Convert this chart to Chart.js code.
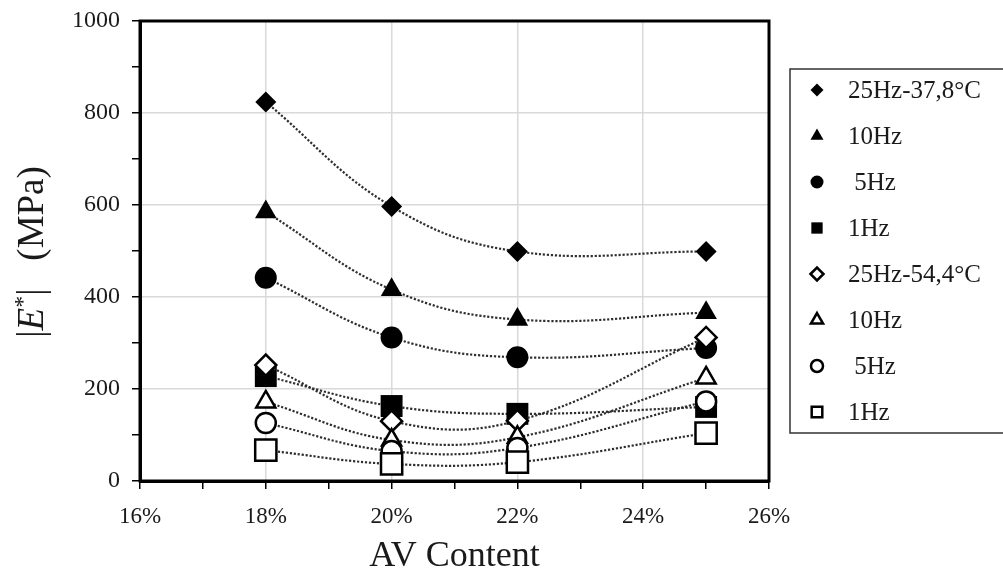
<!DOCTYPE html>
<html>
<head>
<meta charset="utf-8">
<script src="https://cdn.jsdelivr.net/npm/chart.js@4.4.1/dist/chart.umd.min.js"></script>
<style>
    html, body { margin: 0; padding: 0; background: #fff; }
    #wrap { width: 1003px; height: 571px; }
</style>
</head>
<body>
<div id="wrap"><canvas id="chart"></canvas></div>
<script>
// AV content (%) on the x axis
const avContent = [18, 20, 22, 25]

const seriesLabels = ["25Hz-37,8°C", "10Hz", " 5Hz", "1Hz", "25Hz-54,4°C", "10Hz", " 5Hz", "1Hz"]

// |E*| in MPa, 37.8°C
const e25Hz378 = [824, 597, 499, 499]
const e10Hz378 = [585, 416, 351, 366]
const e5Hz378 = [442, 312, 269, 289]
const e1Hz378 = [228, 163, 146, 161]
// |E*| in MPa, 54.4°C
const e25Hz544 = [252, 130, 131, 312]
const e10Hz544 = [172, 89, 95, 224]
const e5Hz544 = [126, 65, 72, 173]
const e1Hz544 = [67, 37, 41, 104]

const xTicks = [16, 18, 20, 22, 24, 26]
const yTicks = [0, 200, 400, 600, 800, 1000]

const seriesValues = [e25Hz378, e10Hz378, e5Hz378, e1Hz378, e25Hz544, e10Hz544, e5Hz544, e1Hz544]

// marker look: shape, filled or open, radius on chart, radius in legend
const markers = [
    { style: "rectRot", filled: true, r: 10.5, lr: 6.5 },
    { style: "triangle", filled: true, r: 12.5, lr: 7.5 },
    { style: "circle", filled: true, r: 11, lr: 6.5 },
    { style: "rect", filled: true, r: 15.5, lr: 8 },
    { style: "rectRot", filled: false, r: 10.5, lr: 6.5 },
    { style: "triangle", filled: false, r: 11, lr: 7 },
    { style: "circle", filled: false, r: 10, lr: 6 },
    { style: "rect", filled: false, r: 15, lr: 7.5 },
]

const serif = "'Liberation Serif', 'Times New Roman', serif"
const ink = "#1a1a1a"

const datasets = seriesValues.map((values, i) => {
    const m = markers[i]
    return {
        label: seriesLabels[i],
        data: values.map((v, j) => ({ x: avContent[j], y: v })),
        order: seriesValues.length - i,
        borderColor: "#2e2e2e",
        borderWidth: 2.2,
        borderDash: [2.2, 1.8],
        tension: 0.4,
        fill: false,
        pointStyle: m.style,
        pointRadius: m.r,
        pointHoverRadius: m.r,
        pointBackgroundColor: m.filled ? "#000" : "#fff",
        pointBorderColor: "#000",
        pointBorderWidth: m.filled ? 0 : 2.5,
    }
})

const framePlugin = {
    id: "frame",
    afterDraw(chart) {
        const ctx = chart.ctx
        const { left, right, top, bottom } = chart.chartArea

        // plot frame
        ctx.save()
        ctx.strokeStyle = "#000"
        ctx.lineWidth = 3
        ctx.strokeRect(left, top, right - left, bottom - top)
        ctx.restore()

        // y axis title: |E*|   (MPa)
        const mid = (top + bottom) / 2
        const parts = [
            { t: "|", f: `37px ${serif}`, dy: 0 },
            { t: "E", f: `italic 37px ${serif}`, dy: 0 },
            { t: "*", f: `24px ${serif}`, dy: -13 },
            { t: "|", f: `37px ${serif}`, dy: 0 },
            { t: "   ", f: `37px ${serif}`, dy: 0 },
            { t: "(MPa)", f: `37px ${serif}`, dy: 0 },
        ]
        ctx.save()
        ctx.translate(31, mid + 1)
        ctx.rotate(-Math.PI / 2)
        ctx.fillStyle = ink
        ctx.textBaseline = "alphabetic"
        let total = 0
        parts.forEach(p => { ctx.font = p.f; p.w = ctx.measureText(p.t).width; total += p.w })
        let cx = -total / 2
        parts.forEach(p => {
            ctx.font = p.f
            ctx.fillText(p.t, cx, 12 + p.dy)
            cx += p.w
        })
        ctx.restore()

        // legend box
        const boxLeft = right + 21
        const step = 46
        const firstY = mid - step * (seriesLabels.length - 1) / 2
        const lastY = firstY + step * (seriesLabels.length - 1)
        ctx.save()
        ctx.strokeStyle = "#333"
        ctx.lineWidth = 1.5
        ctx.strokeRect(boxLeft, firstY - 21, chart.width, lastY - firstY + 42)
        ctx.font = `25px ${serif}`
        ctx.textBaseline = "middle"
        seriesLabels.forEach((label, i) => {
            const m = markers[i]
            const y = firstY + i * step
            ctx.fillStyle = m.filled ? "#000" : "#fff"
            ctx.strokeStyle = "#000"
            ctx.lineWidth = m.filled ? 0 : 2.5
            Chart.helpers.drawPoint(ctx, { pointStyle: m.style, radius: m.lr, borderWidth: m.filled ? 0 : 2.5, rotation: 0 }, boxLeft + 27, y)
            ctx.fillStyle = ink
            ctx.fillText(label, boxLeft + 58, y + 1)
        })
        ctx.restore()
    }
}

new Chart("chart", {
    type: "line",
    data: { datasets },
    plugins: [framePlugin],
    options: {
        responsive: true,
        maintainAspectRatio: false,
        animation: false,
        layout: { padding: { top: 21, right: 234, left: 0, bottom: 0 } },
        plugins: {
            legend: { display: false },
            tooltip: { enabled: false },
        },
        scales: {
            x: {
                type: "linear",
                min: 16,
                max: 26,
                afterFit: scale => { scale.height = 90 },
                ticks: {
                    stepSize: 1,
                    autoSkip: false,
                    maxRotation: 0,
                    padding: 14,
                    color: ink,
                    font: { family: serif, size: 23 },
                    callback: v => xTicks.includes(v) ? v + "%" : "",
                },
                grid: {
                    color: c => c.tick && xTicks.includes(c.tick.value) ? "#d9d9d9" : "rgba(0,0,0,0)",
                    lineWidth: 1.5,
                    tickColor: "#000",
                    tickLength: 8,
                    tickWidth: 1.5,
                },
                border: { color: "#000", width: 3 },
                title: {
                    display: true,
                    text: "AV Content",
                    color: ink,
                    font: { family: serif, size: 36, lineHeight: 0.8 },
                    padding: { top: 4, bottom: 0 },
                },
            },
            y: {
                min: 0,
                max: 1000,
                afterFit: scale => {
                    scale.width = 140
                    scale.paddingTop = 0
                    scale.paddingBottom = 0
                },
                ticks: {
                    stepSize: 100,
                    autoSkip: false,
                    padding: 12,
                    color: ink,
                    font: { family: serif, size: 24 },
                    callback: v => yTicks.includes(v) ? v : "",
                },
                grid: {
                    color: c => c.tick && yTicks.includes(c.tick.value) ? "#d9d9d9" : "rgba(0,0,0,0)",
                    lineWidth: 1.5,
                    tickColor: "#000",
                    tickLength: 8,
                    tickWidth: 1.5,
                },
                border: { color: "#000", width: 3 },
            },
        },
    },
})
</script>
</body>
</html>
